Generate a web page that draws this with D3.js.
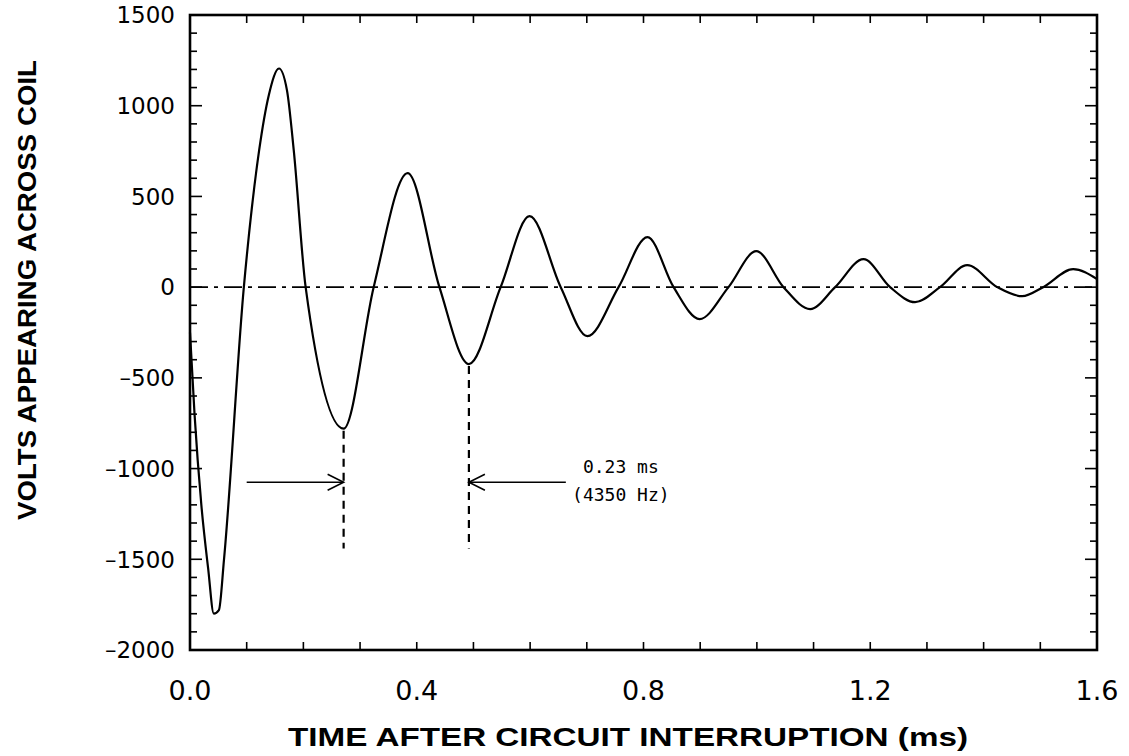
<!DOCTYPE html>
<html>
<head>
<meta charset="utf-8">
<script src="https://cdn.jsdelivr.net/npm/d3@7"></script>
<style>
  body { margin: 0; background: #fff; }
  text { fill: #000; }
</style>
</head>
<body>
<div id="chart"></div>
<script>
// --- data ---
const timeMs = [0, 0.008, 0.02, 0.032, 0.042, 0.051, 0.060, 0.095, 0.122, 0.139, 0.157, 0.171, 0.183, 0.204,
    0.271, 0.324, 0.384, 0.44, 0.492, 0.548, 0.599, 0.654, 0.701, 0.756, 0.807, 0.853, 0.899,
    0.95, 0.999, 1.047, 1.094, 1.138, 1.188, 1.235, 1.279, 1.323, 1.371, 1.424, 1.468, 1.505, 1.558, 1.6];
const volts = [-250, -700, -1200, -1550, -1800, -1780, -1500, 0, 755, 1058, 1205, 1086, 755, 0,
    -780, 0, 628, 0, -424, 0, 391, 0, -270, 0, 276, 0, -176,
    0, 198, 0, -121, 0, 154, 0, -83, 0, 121, 0, -50, 0, 99, 44];

const xTicks = [0, 0.4, 0.8, 1.2, 1.6];
const yTicks = [1500, 1000, 500, 0, -500, -1000, -1500, -2000];

// period annotation: troughs used to mark the period
const periodMarks = [0.271, 0.492];
const arrowLevel = -1075;
const markBottom = -1440;
const leftArrowStart = 0.1, rightArrowStart = 0.663;
const noteLines = ["0.23 ms", "(4350 Hz)"];

const width = 1129, height = 756;
const marginLeft = 190, marginRight = 32, marginTop = 15, marginBottom = 106;

const x = d3.scaleLinear().domain([0, 1.6]).range([marginLeft, width - marginRight]);
const y = d3.scaleLinear().domain([-2000, 1500]).range([height - marginBottom, marginTop]);

const svg = d3.select("#chart").append("svg")
    .attr("width", width)
    .attr("height", height)
    .attr("viewBox", [0, 0, width, height]);

// minor ticks on all four sides, pointing inward
const xMinor = d3.range(0, 1.6001, 0.1);
const yMinor = d3.range(-2000, 1500.1, 100);
const ticks = svg.append("g").attr("stroke", "#000").attr("stroke-width", 1.6);

ticks.selectAll(".xb").data(xMinor).join("line")
    .attr("x1", d => x(d)).attr("x2", d => x(d))
    .attr("y1", y(-2000)).attr("y2", y(-2000) - 8);
ticks.selectAll(".xt").data(xMinor).join("line")
    .attr("x1", d => x(d)).attr("x2", d => x(d))
    .attr("y1", y(1500)).attr("y2", y(1500) + 8);
ticks.selectAll(".yl").data(yMinor).join("line")
    .attr("x1", x(0)).attr("x2", d => x(0) + (d % 500 === 0 ? 12 : 7))
    .attr("y1", d => y(d)).attr("y2", d => y(d));
ticks.selectAll(".yr").data(yMinor).join("line")
    .attr("x1", x(1.6)).attr("x2", d => x(1.6) - (d % 500 === 0 ? 12 : 7))
    .attr("y1", d => y(d)).attr("y2", d => y(d));

// frame
svg.append("rect")
    .attr("x", x(0)).attr("y", y(1500))
    .attr("width", x(1.6) - x(0)).attr("height", y(-2000) - y(1500))
    .attr("fill", "none").attr("stroke", "#000").attr("stroke-width", 2.6);

// tick labels
const tickFont = "'DejaVu Sans', sans-serif";
const titleFont = "'Liberation Sans', Arial, sans-serif";
svg.append("g").selectAll("text").data(yTicks).join("text")
    .attr("x", marginLeft - 15)
    .attr("y", d => y(d))
    .attr("dy", "0.36em")
    .attr("text-anchor", "end")
    .attr("font-family", tickFont)
    .attr("font-size", 23)
    .text(d => d3.format("")(d).replace("\u2212", "\u2013"));

svg.append("g").selectAll("text").data(xTicks).join("text")
    .attr("x", d => x(d))
    .attr("y", y(-2000) + 50)
    .attr("text-anchor", "middle")
    .attr("font-family", tickFont)
    .attr("font-size", 27)
    .text(d => d3.format(".1f")(d));

// axis titles
svg.append("text")
    .attr("x", 628).attr("y", 746)
    .attr("text-anchor", "middle")
    .attr("font-family", titleFont)
    .attr("font-weight", "bold")
    .attr("font-size", 25)
    .attr("textLength", 680)
    .attr("lengthAdjust", "spacingAndGlyphs")
    .text("TIME AFTER CIRCUIT INTERRUPTION (ms)");

svg.append("text")
    .attr("transform", `translate(36, 290) rotate(-90)`)
    .attr("text-anchor", "middle")
    .attr("font-family", titleFont)
    .attr("font-weight", "bold")
    .attr("font-size", 25)
    .attr("textLength", 460)
    .attr("lengthAdjust", "spacingAndGlyphs")
    .text("VOLTS APPEARING ACROSS COIL");

// zero reference, dash-dot
svg.append("line")
    .attr("x1", x(0)).attr("x2", x(1.6))
    .attr("y1", y(0)).attr("y2", y(0))
    .attr("stroke", "#000").attr("stroke-width", 1.6)
    .attr("stroke-dasharray", "18 6 4 6");

// waveform
const pts = timeMs.map((t, i) => [t, volts[i]]);
const line = d3.line().x(d => x(d[0])).y(d => y(d[1])).curve(d3.curveMonotoneX);
svg.append("path")
    .attr("d", line(pts))
    .attr("fill", "none")
    .attr("stroke", "#000")
    .attr("stroke-width", 2.2);

// period markers
const troughV = periodMarks.map(t => volts[timeMs.indexOf(t)]);
svg.append("g").selectAll("line").data(periodMarks).join("line")
    .attr("x1", d => x(d)).attr("x2", d => x(d))
    .attr("y1", (d, i) => y(troughV[i]) + 2).attr("y2", y(markBottom))
    .attr("stroke", "#000").attr("stroke-width", 2.2)
    .attr("stroke-dasharray", "8 6");

function arrow(from, to) {
    const g = svg.append("g").attr("stroke", "#000").attr("stroke-width", 1.6).attr("fill", "none");
    const ya = y(arrowLevel);
    g.append("line").attr("x1", x(from)).attr("x2", x(to)).attr("y1", ya).attr("y2", ya);
    const dir = Math.sign(x(to) - x(from));
    const tip = x(to);
    g.append("path").attr("d", `M${tip - dir * 16},${ya - 8} L${tip},${ya} L${tip - dir * 16},${ya + 8}`);
}
arrow(leftArrowStart, periodMarks[0]);
arrow(rightArrowStart, periodMarks[1]);

svg.append("g").selectAll("text").data(noteLines).join("text")
    .attr("x", x(0.76))
    .attr("y", (d, i) => y(arrowLevel) - 9 + i * 28)
    .attr("text-anchor", "middle")
    .attr("font-family", "'DejaVu Sans Mono', monospace")
    .attr("font-size", 18)
    .text(d => d);
</script>
</body>
</html>
